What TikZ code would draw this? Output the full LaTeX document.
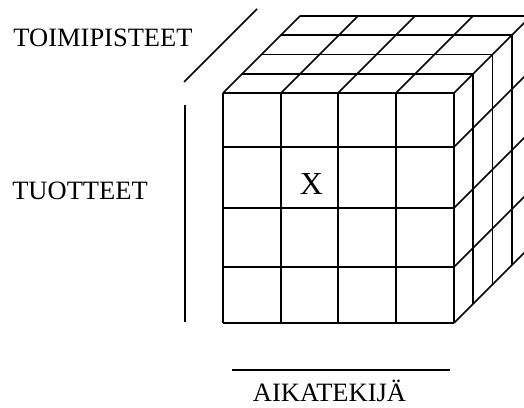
\documentclass[tikz,border=0pt]{standalone}
\usepackage{fontspec}
\setmainfont{Liberation Serif}
\usetikzlibrary{positioning}

\begin{document}
\begin{tikzpicture}[
    x=1pt, y=-1pt,
    grid/.style={line width=1.6pt},
    axisline/.style={line width=1.6pt},
    dimlabel/.style={anchor=base, inner sep=0pt, font=\fontsize{26.5}{30}\selectfont},
    celllabel/.style={anchor=base, inner sep=0pt, font=\fontsize{32}{36}\selectfont}
]
\useasboundingbox (0,0) rectangle (524,407);
\clip (0,0) rectangle (524,407);
% front face
\foreach \y in {93,147,208,267,323}
    \draw[grid] (223,\y) -- (454,\y);
\foreach \x in {223,281,338,396,454}
    \draw[grid] (\x,93) -- (\x,323);
% top face
\foreach \k in {1,2,3,4}
    \draw[grid] (223+19.25*\k,93-19.25*\k) -- (454+19.25*\k,93-19.25*\k);
\foreach \x in {223,281,338,396,454}
    \draw[grid] (\x,93) -- ++(77,-77);
% right face
\foreach \k in {1,2,3,4}
    \draw[grid] (454+19.25*\k,93-19.25*\k) -- ++(0,230);
\foreach \y in {147,208,267,323}
    \draw[grid] (454,\y) -- ++(77,-77);
% dimension lines
\draw[axisline] (184,82) -- (257,9);
\draw[axisline] (185,105) -- (185,322);
\draw[axisline] (232,370) -- (450,370);
% labels
\node[dimlabel] (toimipisteet) at (103,46) {TOIMIPISTEET};
\node[dimlabel] (tuotteet) at (80,199) {TUOTTEET};
\node[dimlabel] (aikatekija) at (329.5,401) {AIKATEKIJÄ};
\node[celllabel] (cell) at (311.5,194) {X};
\end{tikzpicture}
\end{document}
